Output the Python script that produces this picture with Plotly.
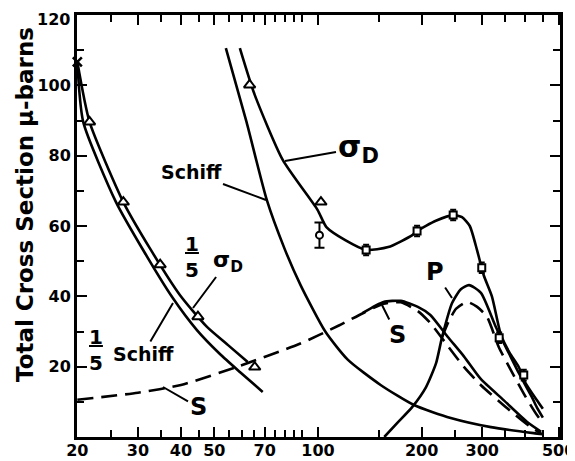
import math
import plotly.graph_objects as go

# ---------------- data ----------------
# energy axis ticks
x_major_vals = [20, 30, 40, 50, 70, 100, 200, 300, 500]
x_major_text = ["20", "30", "40", "50", "70", "100", "200", "300", "500"]
x_minor_vals = [25, 35, 45, 55, 60, 65, 75, 80, 85, 90, 150, 250, 350, 400, 450]
y_major_vals = [20, 40, 60, 80, 100, 120]
y_major_text = ["20", "40", "60", "80", "100", "120"]
y_minor_vals = [10, 30, 50, 70, 90, 110]

# Schiff (solid)
schiff_E = [54, 62, 71, 80, 89, 105, 122, 152, 190, 243, 318, 423, 450]
schiff_sig = [110.6, 89.6, 67.4, 53.5, 43.2, 30.0, 22.0, 14.8, 9.1, 5.4, 2.8, 1.1, 0.8]

# 1/5 Schiff (solid)
fifth_schiff_E = [20, 20.8, 25.9, 31.3, 37.7, 44.5, 51.9, 59.3, 69.1]
fifth_schiff_sig = [106.4, 89.6, 66.8, 52.6, 39.8, 30.4, 23.6, 18.5, 12.8]

# 1/5 sigma_D (solid)
fifth_sigD_E = [20, 21.7, 27.2, 32.7, 39.7, 47.6, 54.7, 62.5]
fifth_sigD_sig = [106.7, 89.6, 66.8, 53.2, 40.4, 31.3, 26.2, 21.3]

# sigma_D (solid)
sigD_E = [59.3, 65.5, 79, 99.7, 105.8, 120, 138, 160, 188, 194, 220, 247, 262, 276,
          290, 303, 320, 340, 360, 383, 400, 432, 450]
sigD_sig = [110.6, 97.3, 78.8, 64.6, 59.7, 56.0, 53.2, 54.0, 57.4, 58.6, 61.5, 63.1,
            62.5, 60.0, 53.0, 46.0, 40.0, 29.0, 24.0, 19.9, 15.5, 10.5, 8.0]

# S wave (dashed)
s_dash_E = [20, 30, 40, 58, 88.5, 115, 135, 155, 174, 195, 212, 240,
            265, 297, 356, 415, 445]
s_dash_sig = [10.6, 12.6, 14.8, 19.9, 26.5, 31.7, 35.2, 37.9, 38.3, 35.8,
              32.4, 25.5, 20.0, 14.8, 8.0, 2.8, 1.0]

# S wave (solid)
s_solid_E = [135, 155, 174, 195, 212, 238, 265, 297, 346, 406, 445]
s_solid_sig = [35.3, 38.4, 38.7, 37.0, 34.7, 28.5, 23.0, 16.5, 10.5, 4.2, 1.5]

# P wave (solid)
p_solid_E = [155.8, 170, 187.7, 206, 220.3, 229.3, 245.2, 260, 274.6, 297.4, 328.6,
             358.2, 383, 417.8, 431.9, 450]
p_solid_sig = [0.0, 4.0, 8.5, 14.2, 21.0, 28.4, 38.1, 42.0, 43.2, 41.0, 31.3, 23.9,
               18.2, 11.4, 8.5, 5.5]

# P wave (dashed)
p_dash_E = [229.3, 240, 252, 271, 290, 310, 335, 363, 401, 432, 450]
p_dash_sig = [28.4, 33.0, 36.5, 38.4, 37.0, 34.1, 25.6, 19.1, 11.4, 6.3, 4.0]

# measured points
cross_E = [20]
cross_sig = [106.7]
tri_low_E = [21.7, 27.2, 34.8, 44.8, 65.5]          # 1/5 sigma_D points
tri_low_sig = [89.6, 66.8, 49.0, 34.2, 19.9]
tri_high_E = [63.3, 102]                            # sigma_D points
tri_high_sig = [100.1, 66.8]
circ_E = [101]
circ_sig = [57.4]
circ_err = [3.6]
sq_E = [138, 194, 247, 299, 336, 396]
sq_sig = [53.2, 58.6, 63.1, 48.1, 28.2, 17.6]
sq_err = [1.5, 1.5, 1.5, 1.5, 1.5, 1.5]

# ---------------- figure ----------------
FONT = "DejaVu Sans"
OFF = 8                      # page body margin of the browser
W, H = 575 - OFF, 461 - OFF
L, R, T, B = 77 - OFF, 15, 15 - OFF, 24
PW, PH = W - L - R, H - T - B


def paper(px, py):
    """screen pixel -> paper coordinates"""
    fx, fy = px - OFF, py - OFF
    return (fx - L) / PW, (H - B - fy) / PH


fig = go.Figure()
LW = 2.6


def curve(E, s, dash="solid"):
    fig.add_trace(go.Scatter(x=E, y=s, mode="lines",
                             line=dict(color="black", width=LW, dash=dash,
                                       shape="spline", smoothing=0.6),
                             hoverinfo="skip", showlegend=False))


curve(schiff_E, schiff_sig)
curve(fifth_schiff_E, fifth_schiff_sig)
curve(fifth_sigD_E, fifth_sigD_sig)
curve(sigD_E, sigD_sig)
curve(s_dash_E, s_dash_sig, "16px,8px")
curve(s_solid_E, s_solid_sig)
curve(p_solid_E, p_solid_sig)
curve(p_dash_E, p_dash_sig, "16px,8px")

mk_line = dict(color="black", width=2)
fig.add_trace(go.Scatter(x=cross_E, y=cross_sig, mode="markers", cliponaxis=False,
                         marker=dict(symbol="x-thin", size=9, line=dict(color="black", width=2.5)),
                         showlegend=False))
fig.add_trace(go.Scatter(x=tri_low_E + tri_high_E, y=tri_low_sig + tri_high_sig,
                         mode="markers", cliponaxis=False,
                         marker=dict(symbol="triangle-up", size=10, color="white", line=mk_line),
                         showlegend=False))
fig.add_trace(go.Scatter(x=circ_E, y=circ_sig, mode="markers",
                         error_y=dict(type="data", array=circ_err, color="black",
                                      thickness=2, width=5),
                         marker=dict(symbol="circle", size=7, color="white", line=mk_line),
                         showlegend=False))
fig.add_trace(go.Scatter(x=sq_E, y=sq_sig, mode="markers",
                         error_y=dict(type="data", array=sq_err, color="black",
                                      thickness=2, width=3),
                         marker=dict(symbol="square", size=7, color="white", line=mk_line),
                         showlegend=False))

# ---------------- labels ----------------
ann = []


def label(text, tx, ty, size, tip=None, xanchor="center"):
    x, y = paper(tx, ty)
    a = dict(text=text, xref="paper", yref="paper", x=x, y=y,
             xanchor=xanchor, yanchor="middle", showarrow=False,
             font=dict(family=FONT, size=size, color="black", weight="bold"))
    if tip is not None:
        hx, hy = paper(*tip)
        a.update(x=hx, y=hy, ax=tx - tip[0], ay=ty - tip[1], axref="pixel", ayref="pixel",
                 showarrow=True, arrowhead=0, arrowwidth=2, arrowcolor="black")
    ann.append(a)


label("σ<sub>D</sub>", 358, 148, 30, tip=(285, 161))
label("Schiff", 191, 172, 19, tip=(266, 200))
label("<u>1</u><br>5", 192, 257, 20)
label("σ<sub>D</sub>", 228, 261, 22, tip=(193, 308))
label("<u>1</u><br>5", 96, 350, 20)
label("Schiff", 143, 354, 19, tip=(173, 303))
label("S", 198, 407, 24, tip=(163, 387))
label("S", 397, 335, 24, tip=(382, 305))
label("P", 435, 272, 24, tip=(452, 298))
# top y tick label drawn slightly below the frame corner, as in the reference
label(y_major_text[-1], 72, 20, 16, xanchor="right")

tx, ty = paper(25, 205)
ann.append(dict(text="Total Cross Section μ-barns", xref="paper", yref="paper",
                x=tx, y=ty, textangle=-90, showarrow=False,
                xanchor="center", yanchor="middle",
                font=dict(family=FONT, size=23, color="black", weight="bold")))

axis_common = dict(showgrid=False, zeroline=False, showline=True, linecolor="black",
                   linewidth=3, mirror="ticks", ticks="inside", ticklen=10, tickwidth=2,
                   tickcolor="black", ticklabeloverflow="allow", automargin=False,
                   tickfont=dict(family=FONT, size=16, color="black", weight="bold"))
minor_common = dict(ticks="inside", ticklen=7, tickwidth=2, tickcolor="black",
                    showgrid=False, tickmode="array")

fig.update_layout(
    width=W, height=H, margin=dict(l=L, r=R, t=T, b=B, autoexpand=False),
    paper_bgcolor="white", plot_bgcolor="white",
    xaxis=dict(type="log", range=[math.log10(20) - 0.001, math.log10(500) + 0.004],
               tickmode="array", tickvals=x_major_vals, ticktext=x_major_text,
               ticklabelstandoff=-3,
               minor=dict(tickvals=x_minor_vals, **minor_common), **axis_common),
    yaxis=dict(range=[0, 120], tickmode="array", tickvals=y_major_vals[:-1],
               ticktext=y_major_text[:-1],
               minor=dict(tickvals=y_minor_vals, **minor_common), **axis_common),
    annotations=ann, showlegend=False,
)

fig.write_html("out.html")
